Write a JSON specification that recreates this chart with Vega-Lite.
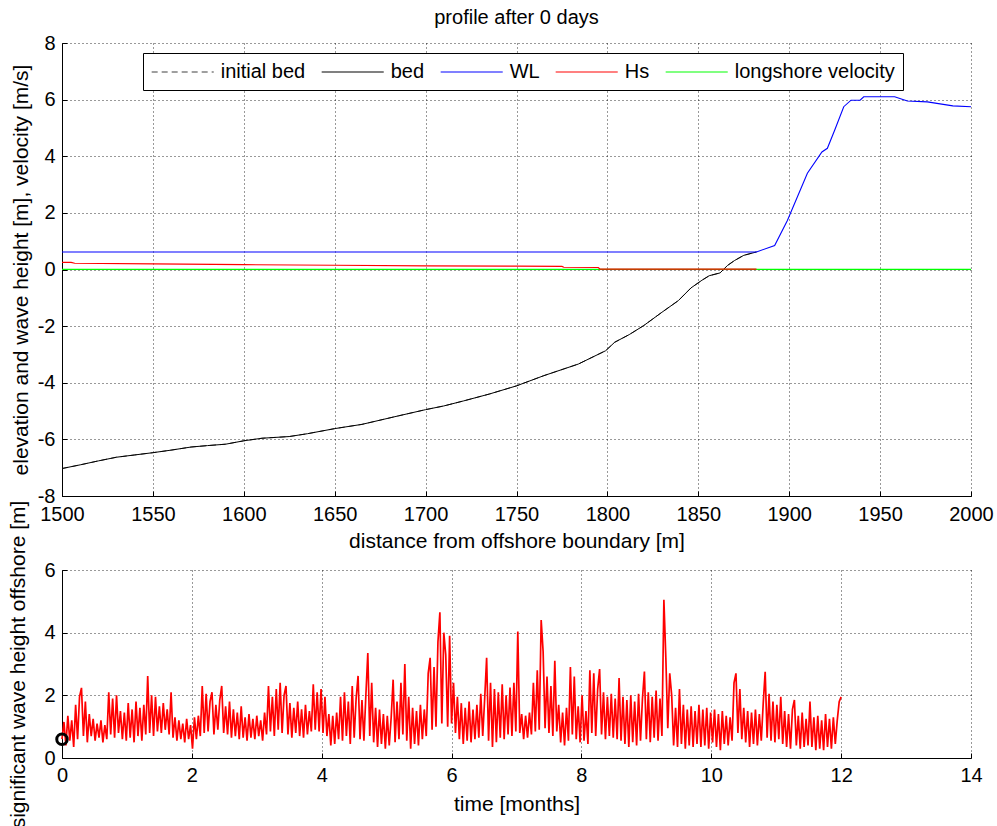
{
"$schema": "https://vega.github.io/schema/vega-lite/v6.json",
"padding": {"left": 7, "top": 8, "right": 5, "bottom": 0},
"bounds": "flush",
"spacing": 74,
"background": "white",
"config": {
  "font": "Liberation Sans",
  "view": {"stroke": null},
  "axis": {"labelFont": "Liberation Sans", "labelFontSize": 20, "labelColor": "black", "titleFont": "Liberation Sans", "titleFontSize": 21, "titleFontWeight": "normal", "titleColor": "black", "domainColor": "black", "domainWidth": 1, "grid": true, "gridColor": "black", "gridDash": [1, 3], "gridOpacity": 0.8, "ticks": true, "tickSize": -5, "tickColor": "black", "labelPadding": 12, "labelOverlap": false, "labelFlush": false, "labelExpr": "'' + datum.value"}
},
"vconcat": [
{
  "width": 909, "height": 453,
  "title": {"text": "profile after 0 days", "fontSize": 20, "fontWeight": "normal", "font": "Liberation Sans", "frame": "group", "offset": 5, "color": "black"},
  "data": {"values": [
{"s":"initial bed","x":1500,"y":-7.03},{"s":"initial bed","x":1510,"y":-6.9},{"s":"initial bed","x":1520,"y":-6.76},{"s":"initial bed","x":1530,"y":-6.63},{"s":"initial bed","x":1540,"y":-6.55},{"s":"initial bed","x":1550,"y":-6.47},{"s":"initial bed","x":1560,"y":-6.38},{"s":"initial bed","x":1571,"y":-6.27},{"s":"initial bed","x":1580,"y":-6.22},{"s":"initial bed","x":1590,"y":-6.17},{"s":"initial bed","x":1600,"y":-6.05},{"s":"initial bed","x":1610,"y":-5.96},{"s":"initial bed","x":1625,"y":-5.9},{"s":"initial bed","x":1635,"y":-5.8},{"s":"initial bed","x":1650,"y":-5.62},{"s":"initial bed","x":1665,"y":-5.47},{"s":"initial bed","x":1685,"y":-5.17},{"s":"initial bed","x":1700,"y":-4.95},{"s":"initial bed","x":1710,"y":-4.82},{"s":"initial bed","x":1721,"y":-4.64},{"s":"initial bed","x":1735,"y":-4.4},{"s":"initial bed","x":1750,"y":-4.11},{"s":"initial bed","x":1765,"y":-3.75},{"s":"initial bed","x":1784,"y":-3.34},{"s":"initial bed","x":1799,"y":-2.87},{"s":"initial bed","x":1804,"y":-2.57},{"s":"initial bed","x":1812,"y":-2.3},{"s":"initial bed","x":1820,"y":-1.98},{"s":"initial bed","x":1830,"y":-1.51},{"s":"initial bed","x":1839,"y":-1.1},{"s":"initial bed","x":1846,"y":-0.65},{"s":"initial bed","x":1852,"y":-0.38},{"s":"initial bed","x":1856,"y":-0.22},{"s":"initial bed","x":1862,"y":-0.12},{"s":"initial bed","x":1866,"y":0.14},{"s":"initial bed","x":1870,"y":0.32},{"s":"initial bed","x":1875,"y":0.5},{"s":"initial bed","x":1882,"y":0.62},
{"s":"bed","x":1500,"y":-7.03},{"s":"bed","x":1510,"y":-6.9},{"s":"bed","x":1520,"y":-6.76},{"s":"bed","x":1530,"y":-6.63},{"s":"bed","x":1540,"y":-6.55},{"s":"bed","x":1550,"y":-6.47},{"s":"bed","x":1560,"y":-6.38},{"s":"bed","x":1571,"y":-6.27},{"s":"bed","x":1580,"y":-6.22},{"s":"bed","x":1590,"y":-6.17},{"s":"bed","x":1600,"y":-6.05},{"s":"bed","x":1610,"y":-5.96},{"s":"bed","x":1625,"y":-5.9},{"s":"bed","x":1635,"y":-5.8},{"s":"bed","x":1650,"y":-5.62},{"s":"bed","x":1665,"y":-5.47},{"s":"bed","x":1685,"y":-5.17},{"s":"bed","x":1700,"y":-4.95},{"s":"bed","x":1710,"y":-4.82},{"s":"bed","x":1721,"y":-4.64},{"s":"bed","x":1735,"y":-4.4},{"s":"bed","x":1750,"y":-4.11},{"s":"bed","x":1765,"y":-3.75},{"s":"bed","x":1784,"y":-3.34},{"s":"bed","x":1799,"y":-2.87},{"s":"bed","x":1804,"y":-2.57},{"s":"bed","x":1812,"y":-2.3},{"s":"bed","x":1820,"y":-1.98},{"s":"bed","x":1830,"y":-1.51},{"s":"bed","x":1839,"y":-1.1},{"s":"bed","x":1846,"y":-0.65},{"s":"bed","x":1852,"y":-0.38},{"s":"bed","x":1856,"y":-0.22},{"s":"bed","x":1862,"y":-0.12},{"s":"bed","x":1866,"y":0.14},{"s":"bed","x":1870,"y":0.32},{"s":"bed","x":1875,"y":0.5},{"s":"bed","x":1882,"y":0.62},
{"s":"longshore velocity","x":1500,"y":0.001},{"s":"longshore velocity","x":2000,"y":0.001},
{"s":"Hs","x":1500,"y":0.25},{"s":"Hs","x":1505,"y":0.25},{"s":"Hs","x":1507,"y":0.22},{"s":"Hs","x":1550,"y":0.2},{"s":"Hs","x":1600,"y":0.17},{"s":"Hs","x":1650,"y":0.15},{"s":"Hs","x":1700,"y":0.13},{"s":"Hs","x":1750,"y":0.12},{"s":"Hs","x":1775,"y":0.11},{"s":"Hs","x":1776,"y":0.08},{"s":"Hs","x":1795,"y":0.07},{"s":"Hs","x":1796,"y":0.01},{"s":"Hs","x":1882,"y":0.01},
{"s":"WL","x":1500,"y":0.62},{"s":"WL","x":1882,"y":0.62},{"s":"WL","x":1892,"y":0.85},{"s":"WL","x":1899,"y":1.73},{"s":"WL","x":1910,"y":3.4},{"s":"WL","x":1918,"y":4.15},{"s":"WL","x":1921,"y":4.28},{"s":"WL","x":1925,"y":4.92},{"s":"WL","x":1930,"y":5.75},{"s":"WL","x":1934,"y":5.98},{"s":"WL","x":1939,"y":5.98},{"s":"WL","x":1941,"y":6.1},{"s":"WL","x":1958,"y":6.1},{"s":"WL","x":1965,"y":5.95},{"s":"WL","x":1976,"y":5.92},{"s":"WL","x":1990,"y":5.78},{"s":"WL","x":2000,"y":5.75}
  ]},
  "encoding": {
    "x": {"field": "x", "type": "quantitative", "scale": {"domain": [1500, 2000], "nice": false, "zero": false}, "axis": {"values": [1500,1550,1600,1650,1700,1750,1800,1850,1900,1950,2000], "title": "distance from offshore boundary [m]", "titlePadding": 6, "labelPadding": 13}},
    "y": {"field": "y", "type": "quantitative", "scale": {"domain": [-8, 8], "nice": false, "zero": false}, "axis": {"values": [-8,-6,-4,-2,0,2,4,6,8], "title": "elevation and wave height [m], velocity [m/s]", "titlePadding": 6}},
    "color": {"field": "s", "type": "nominal", "scale": {"domain": ["initial bed","bed","WL","Hs","longshore velocity"], "range": ["#404040","#000000","#0000ff","#ff0000","#00ff00"]},
      "legend": {"title": null, "orient": "none", "legendX": 81, "legendY": 10, "direction": "horizontal", "columns": 5, "symbolType": "M-3,0H3", "symbolSize": 428, "symbolOffset": 20.7, "symbolStrokeWidth": 1.2, "labelFontSize": 20, "labelFont": "Liberation Sans", "labelColor": "black", "labelOffset": 27, "columnPadding": 13, "padding": 8, "strokeColor": "black", "fillColor": "white", "labelLimit": 400,
        "encode": {"symbols": {"update": {"strokeDash": {"signal": "datum.label === 'initial bed' ? [6, 4] : [1, 0]"}, "fill": {"value": "transparent"}}}}}}
  },
  "layer": [
    {"transform": [{"filter": "datum.s === 'initial bed'"}], "mark": {"type": "line", "strokeWidth": 1, "strokeDash": [6, 4], "clip": true}},
    {"transform": [{"filter": "datum.s === 'bed'"}], "mark": {"type": "line", "strokeWidth": 1, "clip": true}},
    {"transform": [{"filter": "datum.s === 'longshore velocity'"}], "mark": {"type": "line", "strokeWidth": 1.3, "clip": true}},
    {"transform": [{"filter": "datum.s === 'Hs'"}], "mark": {"type": "line", "strokeWidth": 1.2, "clip": true}},
    {"transform": [{"filter": "datum.s === 'WL'"}], "mark": {"type": "line", "strokeWidth": 1.1, "clip": true}}
  ]
},
{
  "width": 909, "height": 188,
  "layer": [
  {
    "data": {"values": [
{"t":0,"h":0.6},{"t":0.03,"h":1.15},{"t":0.06,"h":0.4},{"t":0.09,"h":1.35},{"t":0.12,"h":0.55},{"t":0.15,"h":1.2},{"t":0.18,"h":0.35},{"t":0.21,"h":1.7},{"t":0.24,"h":0.6},{"t":0.27,"h":1.95},{"t":0.3,"h":2.24},{"t":0.33,"h":0.7},{"t":0.36,"h":1.8},{"t":0.39,"h":0.5},{"t":0.42,"h":1.4},{"t":0.45,"h":0.7},{"t":0.48,"h":1.25},{"t":0.51,"h":0.55},{"t":0.54,"h":1.1},{"t":0.57,"h":0.65},{"t":0.6,"h":1.2},{"t":0.63,"h":0.5},{"t":0.66,"h":1.05},{"t":0.69,"h":0.6},{"t":0.72,"h":2.1},{"t":0.75,"h":0.75},{"t":0.78,"h":1.9},{"t":0.81,"h":0.65},{"t":0.84,"h":2.0},{"t":0.87,"h":0.8},{"t":0.9,"h":1.5},{"t":0.93,"h":0.6},{"t":0.96,"h":1.45},{"t":0.99,"h":0.55},
{"t":1.02,"h":1.75},{"t":1.05,"h":0.65},{"t":1.08,"h":1.55},{"t":1.11,"h":0.5},{"t":1.14,"h":1.8},{"t":1.17,"h":0.7},{"t":1.2,"h":1.6},{"t":1.23,"h":0.55},{"t":1.26,"h":1.7},{"t":1.29,"h":0.75},{"t":1.32,"h":2.62},{"t":1.35,"h":0.8},{"t":1.38,"h":2.0},{"t":1.41,"h":0.7},{"t":1.44,"h":1.95},{"t":1.47,"h":0.85},{"t":1.5,"h":1.65},{"t":1.53,"h":0.8},{"t":1.56,"h":1.75},{"t":1.59,"h":0.9},{"t":1.62,"h":1.55},{"t":1.65,"h":0.75},{"t":1.68,"h":2.1},{"t":1.71,"h":0.65},{"t":1.74,"h":1.3},{"t":1.77,"h":0.55},{"t":1.8,"h":1.2},{"t":1.83,"h":0.6},{"t":1.86,"h":1.1},{"t":1.89,"h":0.5},{"t":1.92,"h":1.25},{"t":1.95,"h":0.6},{"t":1.98,"h":1.05},
{"t":2.01,"h":0.3},{"t":2.04,"h":1.3},{"t":2.07,"h":0.6},{"t":2.1,"h":1.35},{"t":2.13,"h":0.7},{"t":2.16,"h":2.3},{"t":2.19,"h":0.8},{"t":2.22,"h":2.05},{"t":2.25,"h":0.85},{"t":2.28,"h":1.8},{"t":2.31,"h":2.1},{"t":2.34,"h":0.75},{"t":2.37,"h":1.7},{"t":2.4,"h":0.9},{"t":2.43,"h":1.85},{"t":2.46,"h":2.3},{"t":2.49,"h":0.8},{"t":2.52,"h":1.65},{"t":2.55,"h":0.75},{"t":2.58,"h":1.8},{"t":2.61,"h":0.65},{"t":2.64,"h":1.55},{"t":2.67,"h":0.7},{"t":2.7,"h":1.45},{"t":2.73,"h":0.6},{"t":2.76,"h":1.65},{"t":2.79,"h":0.65},{"t":2.82,"h":1.3},{"t":2.85,"h":0.55},{"t":2.88,"h":1.4},{"t":2.91,"h":0.65},{"t":2.94,"h":1.25},{"t":2.97,"h":0.6},
{"t":3.0,"h":1.35},{"t":3.03,"h":0.7},{"t":3.06,"h":1.2},{"t":3.09,"h":0.55},{"t":3.12,"h":1.45},{"t":3.15,"h":0.75},{"t":3.18,"h":2.3},{"t":3.21,"h":0.85},{"t":3.24,"h":1.95},{"t":3.27,"h":0.7},{"t":3.3,"h":2.2},{"t":3.33,"h":0.9},{"t":3.36,"h":2.4},{"t":3.39,"h":0.8},{"t":3.42,"h":2.0},{"t":3.45,"h":2.3},{"t":3.48,"h":0.75},{"t":3.51,"h":1.75},{"t":3.54,"h":0.65},{"t":3.57,"h":1.6},{"t":3.6,"h":0.8},{"t":3.63,"h":1.8},{"t":3.66,"h":0.7},{"t":3.69,"h":1.55},{"t":3.72,"h":0.65},{"t":3.75,"h":1.7},{"t":3.78,"h":0.75},{"t":3.81,"h":1.5},{"t":3.84,"h":0.85},{"t":3.87,"h":2.35},{"t":3.9,"h":0.9},{"t":3.93,"h":2.1},{"t":3.96,"h":0.85},{"t":3.99,"h":2.2},
{"t":4.02,"h":0.8},{"t":4.05,"h":1.95},{"t":4.08,"h":0.7},{"t":4.11,"h":1.4},{"t":4.14,"h":0.4},{"t":4.17,"h":1.35},{"t":4.2,"h":0.45},{"t":4.23,"h":1.45},{"t":4.26,"h":0.6},{"t":4.29,"h":1.95},{"t":4.32,"h":0.55},{"t":4.35,"h":2.1},{"t":4.38,"h":0.7},{"t":4.41,"h":1.8},{"t":4.44,"h":0.45},{"t":4.47,"h":2.3},{"t":4.5,"h":0.65},{"t":4.53,"h":1.9},{"t":4.56,"h":2.62},{"t":4.59,"h":0.6},{"t":4.62,"h":1.85},{"t":4.65,"h":0.55},{"t":4.68,"h":2.0},{"t":4.71,"h":3.35},{"t":4.74,"h":0.7},{"t":4.77,"h":2.4},{"t":4.8,"h":0.5},{"t":4.83,"h":1.6},{"t":4.86,"h":0.35},{"t":4.89,"h":1.55},{"t":4.92,"h":0.45},{"t":4.95,"h":1.4},{"t":4.98,"h":0.3},
{"t":5.01,"h":1.35},{"t":5.04,"h":0.4},{"t":5.07,"h":1.3},{"t":5.1,"h":2.5},{"t":5.13,"h":0.5},{"t":5.16,"h":1.8},{"t":5.19,"h":0.6},{"t":5.22,"h":2.4},{"t":5.25,"h":0.75},{"t":5.28,"h":3.0},{"t":5.31,"h":0.55},{"t":5.34,"h":1.95},{"t":5.37,"h":0.3},{"t":5.4,"h":1.6},{"t":5.43,"h":0.45},{"t":5.46,"h":1.5},{"t":5.49,"h":0.4},{"t":5.52,"h":1.7},{"t":5.55,"h":0.6},{"t":5.58,"h":1.55},{"t":5.61,"h":0.7},{"t":5.64,"h":2.7},{"t":5.67,"h":3.2},{"t":5.7,"h":0.9},{"t":5.73,"h":2.9},{"t":5.76,"h":1.0},{"t":5.79,"h":3.7},{"t":5.82,"h":4.65},{"t":5.85,"h":1.1},{"t":5.88,"h":4.0},{"t":5.91,"h":3.3},{"t":5.94,"h":1.0},{"t":5.97,"h":3.9},
{"t":6.0,"h":1.1},{"t":6.03,"h":2.4},{"t":6.06,"h":0.8},{"t":6.09,"h":1.95},{"t":6.12,"h":0.6},{"t":6.15,"h":1.75},{"t":6.18,"h":0.45},{"t":6.21,"h":1.6},{"t":6.24,"h":0.55},{"t":6.27,"h":1.8},{"t":6.3,"h":0.5},{"t":6.33,"h":1.55},{"t":6.36,"h":0.6},{"t":6.39,"h":1.7},{"t":6.42,"h":0.65},{"t":6.45,"h":2.05},{"t":6.48,"h":0.7},{"t":6.51,"h":1.9},{"t":6.54,"h":3.2},{"t":6.57,"h":0.55},{"t":6.6,"h":2.4},{"t":6.63,"h":0.35},{"t":6.66,"h":2.2},{"t":6.69,"h":0.5},{"t":6.72,"h":2.1},{"t":6.75,"h":0.65},{"t":6.78,"h":2.35},{"t":6.81,"h":0.6},{"t":6.84,"h":2.0},{"t":6.87,"h":0.75},{"t":6.9,"h":2.25},{"t":6.93,"h":0.7},{"t":6.96,"h":2.4},{"t":6.99,"h":0.85},
{"t":7.02,"h":4.04},{"t":7.05,"h":0.8},{"t":7.08,"h":1.4},{"t":7.11,"h":0.6},{"t":7.14,"h":1.35},{"t":7.17,"h":0.65},{"t":7.2,"h":1.45},{"t":7.23,"h":0.75},{"t":7.26,"h":2.4},{"t":7.29,"h":0.85},{"t":7.32,"h":2.8},{"t":7.35,"h":0.9},{"t":7.38,"h":4.4},{"t":7.41,"h":3.4},{"t":7.44,"h":0.95},{"t":7.47,"h":2.6},{"t":7.5,"h":0.8},{"t":7.53,"h":2.3},{"t":7.56,"h":0.7},{"t":7.59,"h":3.1},{"t":7.62,"h":0.85},{"t":7.65,"h":1.7},{"t":7.68,"h":0.5},{"t":7.71,"h":1.45},{"t":7.74,"h":0.4},{"t":7.77,"h":1.6},{"t":7.8,"h":0.55},{"t":7.83,"h":2.9},{"t":7.86,"h":0.75},{"t":7.89,"h":2.6},{"t":7.92,"h":0.6},{"t":7.95,"h":1.65},{"t":7.98,"h":0.5},
{"t":8.01,"h":2.0},{"t":8.04,"h":0.55},{"t":8.07,"h":1.5},{"t":8.1,"h":0.45},{"t":8.13,"h":2.8},{"t":8.16,"h":0.8},{"t":8.19,"h":2.7},{"t":8.22,"h":0.7},{"t":8.25,"h":2.2},{"t":8.28,"h":2.84},{"t":8.31,"h":0.75},{"t":8.34,"h":2.1},{"t":8.37,"h":0.6},{"t":8.4,"h":1.95},{"t":8.43,"h":0.7},{"t":8.46,"h":2.05},{"t":8.49,"h":0.65},{"t":8.52,"h":1.9},{"t":8.55,"h":0.6},{"t":8.58,"h":2.55},{"t":8.61,"h":0.55},{"t":8.64,"h":1.95},{"t":8.67,"h":0.45},{"t":8.7,"h":1.85},{"t":8.73,"h":0.35},{"t":8.76,"h":2.0},{"t":8.79,"h":0.5},{"t":8.82,"h":1.8},{"t":8.85,"h":0.4},{"t":8.88,"h":2.05},{"t":8.91,"h":0.55},{"t":8.94,"h":1.9},{"t":8.97,"h":2.76},
{"t":9.0,"h":0.6},{"t":9.03,"h":2.1},{"t":9.06,"h":0.5},{"t":9.09,"h":1.95},{"t":9.12,"h":0.65},{"t":9.15,"h":2.15},{"t":9.18,"h":0.55},{"t":9.21,"h":1.9},{"t":9.24,"h":0.7},{"t":9.27,"h":5.05},{"t":9.3,"h":3.2},{"t":9.33,"h":0.95},{"t":9.36,"h":2.7},{"t":9.39,"h":2.0},{"t":9.42,"h":0.4},{"t":9.45,"h":1.6},{"t":9.48,"h":0.35},{"t":9.51,"h":2.2},{"t":9.54,"h":0.45},{"t":9.57,"h":1.7},{"t":9.6,"h":0.3},{"t":9.63,"h":1.55},{"t":9.66,"h":0.4},{"t":9.69,"h":1.65},{"t":9.72,"h":0.35},{"t":9.75,"h":1.5},{"t":9.78,"h":0.45},{"t":9.81,"h":1.7},{"t":9.84,"h":0.35},{"t":9.87,"h":1.55},{"t":9.9,"h":0.4},{"t":9.93,"h":1.6},{"t":9.96,"h":0.3},{"t":9.99,"h":1.45},
{"t":10.02,"h":0.5},{"t":10.05,"h":1.55},{"t":10.08,"h":0.35},{"t":10.11,"h":1.4},{"t":10.14,"h":0.25},{"t":10.17,"h":1.5},{"t":10.2,"h":0.45},{"t":10.23,"h":1.35},{"t":10.26,"h":0.4},{"t":10.29,"h":1.3},{"t":10.32,"h":0.55},{"t":10.35,"h":2.4},{"t":10.38,"h":2.7},{"t":10.41,"h":0.8},{"t":10.44,"h":2.2},{"t":10.47,"h":0.6},{"t":10.5,"h":1.6},{"t":10.53,"h":0.5},{"t":10.56,"h":1.5},{"t":10.59,"h":0.35},{"t":10.62,"h":1.45},{"t":10.65,"h":0.45},{"t":10.68,"h":1.55},{"t":10.71,"h":0.4},{"t":10.74,"h":1.4},{"t":10.77,"h":0.55},{"t":10.8,"h":1.75},{"t":10.83,"h":2.75},{"t":10.86,"h":0.65},{"t":10.89,"h":2.05},{"t":10.92,"h":0.55},{"t":10.95,"h":1.8},{"t":10.98,"h":0.5},
{"t":11.01,"h":1.7},{"t":11.04,"h":0.6},{"t":11.07,"h":1.95},{"t":11.1,"h":0.45},{"t":11.13,"h":1.5},{"t":11.16,"h":0.35},{"t":11.19,"h":1.4},{"t":11.22,"h":0.3},{"t":11.25,"h":1.55},{"t":11.28,"h":1.85},{"t":11.31,"h":0.4},{"t":11.34,"h":1.35},{"t":11.37,"h":0.3},{"t":11.4,"h":1.45},{"t":11.43,"h":0.35},{"t":11.46,"h":1.25},{"t":11.49,"h":0.4},{"t":11.52,"h":1.8},{"t":11.55,"h":0.35},{"t":11.58,"h":1.3},{"t":11.61,"h":0.25},{"t":11.64,"h":1.35},{"t":11.67,"h":0.3},{"t":11.7,"h":1.2},{"t":11.73,"h":0.25},{"t":11.76,"h":1.4},{"t":11.79,"h":0.35},{"t":11.82,"h":1.25},{"t":11.85,"h":0.3},{"t":11.88,"h":1.3},{"t":11.91,"h":0.45},{"t":11.94,"h":1.2},{"t":11.97,"h":1.8},{"t":12.0,"h":1.95}
    ]},
    "mark": {"type": "line", "color": "#ff0000", "strokeWidth": 1.7},
    "encoding": {
      "x": {"field": "t", "type": "quantitative", "scale": {"domain": [0, 14], "nice": false, "zero": false}, "axis": {"values": [0,2,4,6,8,10,12,14], "title": "time [months]", "titlePadding": 8}},
      "y": {"field": "h", "type": "quantitative", "scale": {"domain": [0, 6], "nice": false}, "axis": {"values": [0,2,4,6], "title": "significant wave height offshore [m]", "titlePadding": 15}}
    }
  },
  {
    "data": {"values": [{"t": 0, "h": 0.6}]},
    "mark": {"type": "point", "shape": "circle", "size": 110, "strokeWidth": 3, "color": "black", "filled": false, "opacity": 1},
    "encoding": {
      "x": {"field": "t", "type": "quantitative"},
      "y": {"field": "h", "type": "quantitative"}
    }
  }
  ]
}
]
}
